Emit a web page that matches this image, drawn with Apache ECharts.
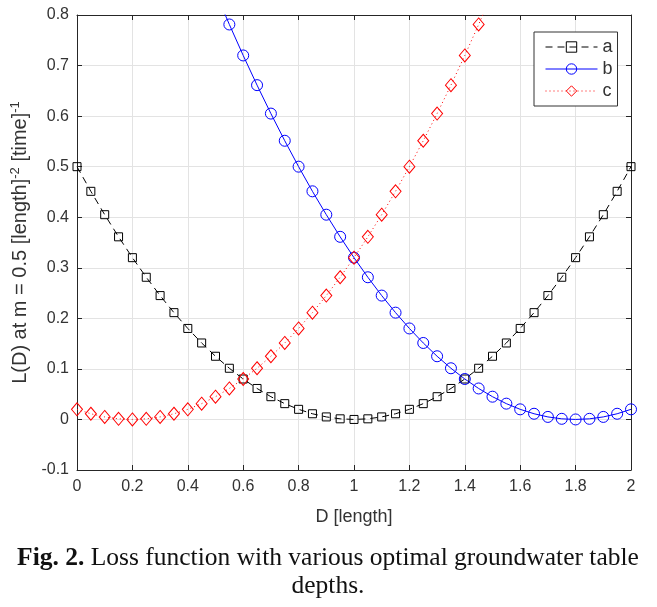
<!DOCTYPE html>
<html>
<head>
<meta charset="utf-8">
<script src="https://cdn.jsdelivr.net/npm/echarts@6/dist/echarts.min.js"></script>
<style>
html,body{margin:0;padding:0;background:#fff;}
#chart{width:657px;height:607px;}
</style>
</head>
<body>
<div id="chart"></div>
<script>
var depths = [0,0.05,0.1,0.15,0.2,0.25,0.3,0.35,0.4,0.45,0.5,0.55,0.6,0.65,0.7,0.75,0.8,0.85,0.9,0.95,1,1.05,1.1,1.15,1.2,1.25,1.3,1.35,1.4,1.45,1.5,1.55,1.6,1.65,1.7,1.75,1.8,1.85,1.9,1.95,2];
var seriesA = [0.5,0.45125,0.405,0.36125,0.32,0.28125,0.245,0.21125,0.18,0.15125,0.125,0.10125,0.08,0.06125,0.045,0.03125,0.02,0.01125,0.005,0.00125,0,0.00125,0.005,0.01125,0.02,0.03125,0.045,0.06125,0.08,0.10125,0.125,0.15125,0.18,0.21125,0.245,0.28125,0.32,0.36125,0.405,0.45125,0.5];
var seriesB = [1.62,1.53125,1.445,1.36125,1.28,1.20125,1.125,1.05125,0.98,0.91125,0.845,0.78125,0.72,0.66125,0.605,0.55125,0.5,0.45125,0.405,0.36125,0.32,0.28125,0.245,0.21125,0.18,0.15125,0.125,0.10125,0.08,0.06125,0.045,0.03125,0.02,0.01125,0.005,0.00125,0,0.00125,0.005,0.01125,0.02];
var seriesC = [0.02,0.01125,0.005,0.00125,0,0.00125,0.005,0.01125,0.02,0.03125,0.045,0.06125,0.08,0.10125,0.125,0.15125,0.18,0.21125,0.245,0.28125,0.32,0.36125,0.405,0.45125,0.5,0.55125,0.605,0.66125,0.72,0.78125,0.845,0.91125,0.98,1.05125,1.125,1.20125,1.28,1.36125,1.445,1.53125,1.62];
var seriesNames = ['a','b','c'];
var xTitle = 'D [length]';
var captionBold = 'Fig. 2.';
var captionRest = ' Loss function with various optimal groundwater table';
var captionLine2 = 'depths.';

function pairs(vals){ return depths.map(function(d,i){ return [d, vals[i]]; }); }

var font = 'Liberation Sans, Arial, sans-serif';
var serif = 'Liberation Serif, serif';
var axisColor = '#262626';
var chart = echarts.init(document.getElementById('chart'), null, {renderer:'canvas'});
function mkX(pos, show){
  return {type:'value', position:pos, min:0, max:2, interval:0.2,
    axisLine:{show:true, onZero:false, lineStyle:{color:axisColor, width:1}},
    axisTick:{show:true, inside:true, length:5, lineStyle:{color:axisColor}},
    axisLabel:{show:show, color:'#333', fontFamily:font, fontSize:16, margin:9},
    splitLine:{show:show, lineStyle:{color:'#e3e3e3', width:1}}};
}
function mkY(pos, show){
  return {type:'value', position:pos, min:-0.1, max:0.8, interval:0.1,
    axisLine:{show:true, onZero:false, lineStyle:{color:axisColor, width:1}},
    axisTick:{show:true, inside:true, length:5, lineStyle:{color:axisColor}},
    axisLabel:{show:show, color:'#333', fontFamily:font, fontSize:16, margin:8},
    splitLine:{show:show, lineStyle:{color:'#e3e3e3', width:1}}};
}
var x0 = mkX('bottom', true);
x0.name = xTitle; x0.nameLocation = 'middle'; x0.nameGap = 38;
x0.nameTextStyle = {color:'#333', fontFamily:font, fontSize:18};
var y0 = mkY('left', true);
y0.name = '{t|L(D) at m = 0.5 [length]}{s|-2}{t| [time]}{s|-1}';
y0.nameLocation = 'middle'; y0.nameGap = 44; y0.nameRotate = 90;
y0.nameTextStyle = {color:'#333', fontFamily:font, fontSize:20,
  rich:{t:{fontFamily:font, fontSize:20, color:'#333', lineHeight:24},
        s:{fontFamily:font, fontSize:13, color:'#333', verticalAlign:'top', lineHeight:24, padding:[0,0,9,0]}}};

chart.setOption({
  animation:false,
  backgroundColor:'#fff',
  grid:{left:77, right:26, top:15, bottom:137, containLabel:false},
  xAxis:[x0, mkX('top', false)],
  yAxis:[y0, mkY('right', false)],
  legend:{
    left:534, top:32, orient:'vertical', itemWidth:52, itemHeight:13, itemGap:4,
    padding:[6,5,6,11], borderColor:'#333', borderWidth:1, backgroundColor:'#fff',
    textStyle:{fontFamily:font, fontSize:18, color:'#333'},
    lineStyle:{width:1},
    itemStyle:{borderWidth:1},
    data:seriesNames
  },
  series:[
    {name:seriesNames[0], type:'line', xAxisIndex:0, yAxisIndex:0, data:pairs(seriesA), clip:true,
     symbol:'rect', symbolSize:8,
     lineStyle:{color:'#000', width:1, type:[7,5]},
     itemStyle:{color:'rgba(0,0,0,0)', borderColor:'#000', borderWidth:1}},
    {name:seriesNames[1], type:'line', xAxisIndex:0, yAxisIndex:0, data:pairs(seriesB), clip:true,
     symbol:'circle', symbolSize:11,
     lineStyle:{color:'#0000ff', width:1},
     itemStyle:{color:'rgba(0,0,0,0)', borderColor:'#0000ff', borderWidth:1}},
    {name:seriesNames[2], type:'line', xAxisIndex:0, yAxisIndex:0, data:pairs(seriesC), clip:true,
     symbol:'diamond', symbolSize:[11,13],
     lineStyle:{color:'#ff0000', width:1, type:[1,3]},
     itemStyle:{color:'rgba(0,0,0,0)', borderColor:'#ff0000', borderWidth:1}}
  ],
  graphic:[
    {type:'text', x:328, y:558,
     style:{text:'{b|'+captionBold+'}{r|'+captionRest+'}', align:'center', verticalAlign:'middle', rich:{
       b:{fontFamily:serif, fontWeight:'bold', fontSize:25.5, fill:'#111'},
       r:{fontFamily:serif, fontSize:25.5, fill:'#111'}}}},
    {type:'text', x:328, y:586,
     style:{text:captionLine2, align:'center', verticalAlign:'middle', fontFamily:serif, fontSize:25.5, fill:'#111'}}
  ]
});
</script>
</body>
</html>
